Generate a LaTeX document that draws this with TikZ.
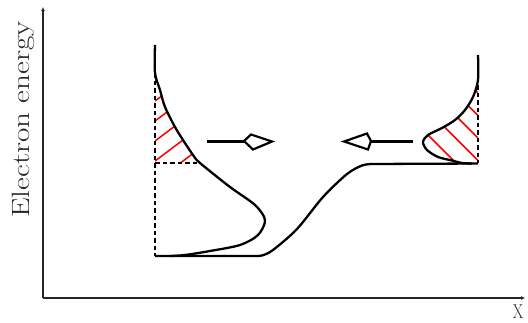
\documentclass[tikz,border=0pt]{standalone}
\usetikzlibrary{arrows.meta}
\begin{document}
\begin{tikzpicture}[x=1pt,y=-1pt,
  curve/.style={line width=2.3pt,line join=round},
  axisline/.style={line width=1.8pt,draw=black!85},
  dashline/.style={line width=1.6pt,dash pattern=on 4.5pt off 3pt},
  hatch/.style={red,line width=1.5pt},
  shaft/.style={line width=3pt},
  head/.style={line width=2.2pt,line join=miter}]
\path[use as bounding box] (0,0) rectangle (528,322);
% axes
\coordinate (O) at (43,298);
\coordinate (Ytop) at (43,7);
\coordinate (Xend) at (525,298);
\draw[axisline,-{Latex[length=4pt,width=4pt]}] (O) -- (Ytop);
\draw[axisline,-{Latex[length=4pt,width=4pt]}] (O) -- (Xend);
\node[rotate=90,anchor=base,inner sep=0pt,text=black!85] (ylab) at (30,119.5)
  {\scalebox{1.25}[1]{\fontsize{25}{30}\selectfont Electron energy}};
\node[anchor=base,inner sep=0pt,text=black!85] (xlab) at (518,318.5)
  {\scalebox{0.75}[1]{\fontsize{20}{24}\selectfont X}};
% left hatching
\begin{scope}
  \clip (155,60) -- plot[smooth] coordinates {(155,60) (155,73) (160,90) (165,107) (175,127) (183,140) (193,155) (200,163)} -- (155,163) -- cycle;
  \foreach \c in {182,161,141,121,101,81}
    \draw[hatch] (155,\c) -- ++(80,-60);
\end{scope}
% right hatching
\begin{scope}
  \clip (478,55) -- plot[smooth] coordinates {(478,55) (478,80) (473,97) (465,110) (455,120) (442,128) (428,135) (423,142) (427,150) (438,157) (452,160.5) (462,163)} -- (478,163) -- cycle;
  \foreach \c in {70,93,115.5,138,160.5,185}
    \draw[hatch] (478,\c) -- ++(-90,-90);
\end{scope}
% dashed lines
\draw[dashline] (155,73) -- (155,256);
\draw[dashline] (155,163) -- (200,163);
\draw[dashline] (478,85) -- (478,163);
% left distribution curve
\draw[curve] plot[smooth] coordinates {(155,45) (155,73) (160,90) (165,107) (175,127) (183,140) (193,155) (200,163) (230,187) (255,205) (265,220) (258,235) (240,245) (210,251) (185,255) (170,256)};
% band edge
\draw[curve] (155,256) -- plot[smooth] coordinates {(255,256) (262,255.5) (273,250) (297,229) (323,197) (347,174) (362,165.5) (372,164)} -- (478,163.5);
% right distribution curve
\draw[curve] plot[smooth] coordinates {(478,55) (478,80) (473,97) (465,110) (455,120) (442,128) (428,135) (423,142) (427,150) (438,157) (452,160.5) (462,163) (472,163.5)};
% arrows
\coordinate (la) at (207,141);
\coordinate (lb) at (244,141);
\draw[shaft] (la) -- (lb);
\draw[head] (lb) -- (251,134.5) -- (272,141.5) -- (253,149.5) -- cycle;
\coordinate (ra) at (413,141);
\coordinate (rb) at (371,141);
\draw[shaft] (ra) -- (rb);
\draw[head] (rb) -- (367,133.5) -- (344,141.5) -- (368,149.5) -- cycle;
\end{tikzpicture}
\end{document}
